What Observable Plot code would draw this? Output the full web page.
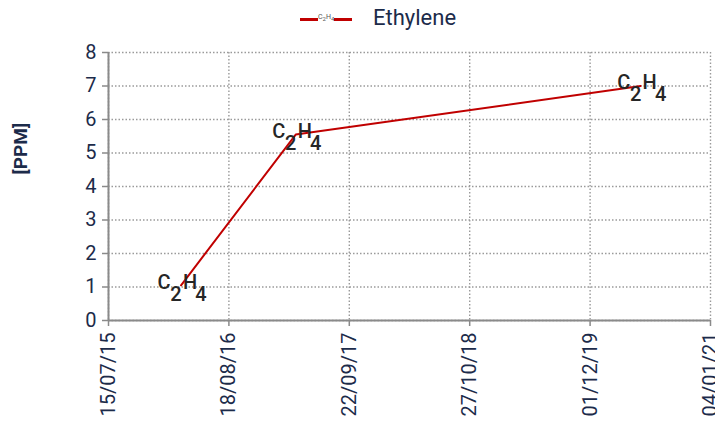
<!DOCTYPE html>
<html>
<head>
<meta charset="utf-8">
<script src="https://cdn.jsdelivr.net/npm/d3@7"></script>
<script src="https://cdn.jsdelivr.net/npm/@observablehq/plot@0.6"></script>
<style>
  html, body { margin: 0; padding: 0; background: #fff; }
  #chart { width: 715px; height: 428px; position: relative; font-family: Roboto, "Noto Sans", sans-serif; }
  .legend { height: 40px; position: relative; }
  .legend .swatch { position: absolute; left: 300px; top: 18px; width: 52px; height: 2.5px; background: #c00000; }
  .legend .mini { position: absolute; left: 318px; top: 13px; font-size: 7px; color: #555; background: #fff; line-height: 8px; }
  .legend .mini sub { font-size: 6px; vertical-align: -2px; }
  .legend .name { position: absolute; left: 373px; top: 5px; font-size: 22px; color: #1c2b4a; }
</style>
</head>
<body>
<div id="chart"></div>
<script>
// Ethylene (C2H4) concentration readings
const sampleDates = ["2016-03-12", "2017-03-28", "2020-05-17"];
const ethylenePpm = [1.05, 5.55, 7.0];

// axis ticks
const xTickDates = ["2015-07-15", "2016-08-18", "2017-09-22", "2018-10-27", "2019-12-01", "2021-01-04"];
const xTickLabels = ["15/07/15", "18/08/16", "22/09/17", "27/10/18", "01/12/19", "04/01/21"];
const yTicks = [0, 1, 2, 3, 4, 5, 6, 7, 8];

const seriesName = "Ethylene";
const formulaParts = ["C", "2", "H", "4"];
const yLabel = "[PPM]";

const parseDate = d3.utcParse("%Y-%m-%d");
const rows = sampleDates.map((d, i) => ({date: parseDate(d), value: ethylenePpm[i]}));
const xTicks = xTickDates.map(parseDate);
const tickLabelByTime = new Map(xTicks.map((d, i) => [+d, xTickLabels[i]]));

const navy = "#1c2b4a";
const gridStyle = {stroke: "#9a9a9a", strokeOpacity: 1, strokeWidth: 1.4, strokeDasharray: "1.5,2"};
const labelStyle = {x: "date", y: "value", fontSize: 20, fill: "#262626", fontWeight: 500};

const root = document.getElementById("chart");

// legend above the plot
const legend = document.createElement("div");
legend.className = "legend";
legend.innerHTML =
  `<div class="swatch"></div>` +
  `<div class="mini">${formulaParts[0]}<sub>${formulaParts[1]}</sub>${formulaParts[2]}<sub>${formulaParts[3]}</sub></div>` +
  `<div class="name">${seriesName}</div>`;
root.appendChild(legend);

const plot = Plot.plot({
  width: 715,
  height: 388,
  marginTop: 12,
  marginBottom: 108,
  marginLeft: 108,
  marginRight: 5,
  style: {fontFamily: "Roboto, 'Noto Sans', sans-serif", fontSize: "20px", color: navy, background: "transparent"},
  x: {type: "utc", domain: [xTicks[0], xTicks[xTicks.length - 1]]},
  y: {domain: [0, 8]},
  marks: [
    Plot.gridX(xTicks, gridStyle),
    Plot.gridY(yTicks, gridStyle),
    Plot.axisX({
      ticks: xTicks,
      tickFormat: (d) => tickLabelByTime.get(+d),
      tickRotate: -90,
      tickSize: 6,
      tickPadding: 6,
      stroke: "#8a8a8a",
      strokeWidth: 1.5,
      fill: navy,
      fontSize: 20,
      label: null
    }),
    Plot.axisY({
      ticks: yTicks,
      tickSize: 6,
      tickPadding: 6,
      stroke: "#8a8a8a",
      strokeWidth: 1.5,
      fill: navy,
      fontSize: 20,
      label: null
    }),
    Plot.ruleY([0], {stroke: "#8a8a8a", strokeWidth: 2}),
    Plot.ruleX([xTicks[0]], {stroke: "#8a8a8a", strokeWidth: 2}),
    Plot.text([yLabel], {frameAnchor: "left", dx: -88, dy: -12, rotate: -90, fontSize: 19, fontWeight: "bold", fill: navy}),
    Plot.line(rows, {x: "date", y: "value", stroke: "#c00000", strokeWidth: 2}),
    // formula labels: C and H on the baseline, digits dropped as subscripts
    Plot.text(rows, {...labelStyle, text: () => formulaParts[0], dx: -17, dy: -3}),
    Plot.text(rows, {...labelStyle, text: () => formulaParts[1], dx: -5, dy: 9}),
    Plot.text(rows, {...labelStyle, text: () => formulaParts[2], dx: 9, dy: -3}),
    Plot.text(rows, {...labelStyle, text: () => formulaParts[3], dx: 20, dy: 9})
  ]
});
root.appendChild(plot);
</script>
</body>
</html>
